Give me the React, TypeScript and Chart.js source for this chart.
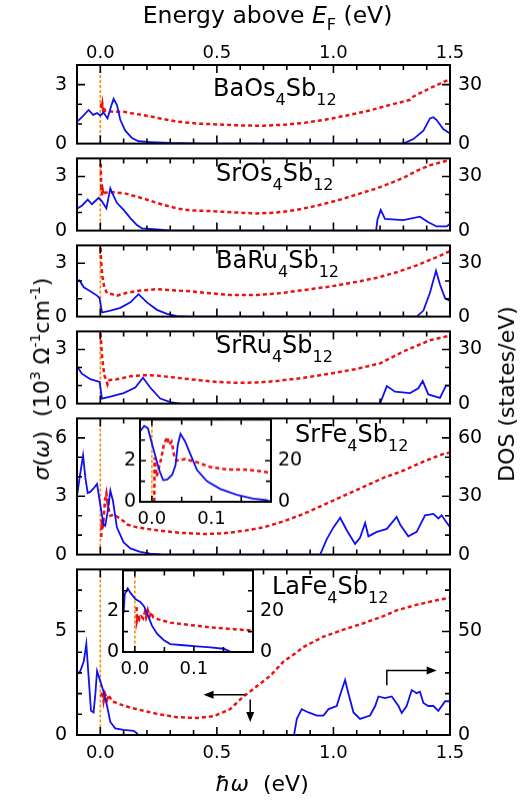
import React, { useEffect, useRef } from "react";
import { Chart, registerables } from "chart.js";
Chart.register(...registerables);

type Pt = [number, number];

// ---------- axis ranges and tick labels ----------
const X_MIN = -0.1;
const X_MAX = 1.5;
const X_TICK_LABELS = [0, 0.5, 1.0, 1.5];
const INSET_X_MIN = -0.02;
const INSET_X_MAX = 0.2;
const INSET_X_TICK_LABELS = [0, 0.1];
const INSET_Y_MAX = 4;
const INSET_LEFT_LABELS = [0, 2];
const INSET_RIGHT_LABELS = [0, 20];

// ---------- data: sigma (10^3 Ohm^-1 cm^-1) vs hbar*omega (eV); DOS (states/eV) vs E-EF (eV) ----------
const baOsSigma: Pt[] = [
  [0.003, 2.05], [0.006, 1.75], [0.009, 2.0], [0.012, 1.7], [0.016, 1.85], [0.02, 1.66], [0.057, 1.62],
  [0.1, 1.62], [0.157, 1.5], [0.214, 1.38], [0.271, 1.25], [0.329, 1.12], [0.414, 1.02], [0.514, 0.97],
  [0.614, 0.92], [0.7, 0.91], [0.8, 0.97], [0.871, 1.05], [0.957, 1.2], [1.057, 1.43], [1.157, 1.69],
  [1.243, 1.97], [1.329, 2.23], [1.343, 2.4], [1.414, 2.82], [1.5, 3.28],
];
const baOsDos: Pt[] = [
  [-0.099, 11.2], [-0.079, 13.5], [-0.05, 17.1], [-0.031, 14.6], [-0.014, 15.5], [0.0, 14.3], [0.014, 15.8],
  [0.031, 12.8], [0.046, 18.9], [0.057, 22.8], [0.071, 19.7], [0.086, 12], [0.107, 6.6], [0.136, 2.8],
  [0.164, 1.2], [0.214, 0.8], [0.3, 0.3], [0.443, 0], [1.3, 0], [1.343, 2.3], [1.386, 6.6], [1.414, 12.8],
  [1.429, 13.4], [1.443, 12], [1.471, 7.4], [1.5, 5.1],
];
const srOsSigma: Pt[] = [
  [0.002, 3.7], [0.004, 2.2], [0.006, 2.6], [0.008, 1.95], [0.011, 2.2], [0.014, 1.98], [0.02, 2.1],
  [0.057, 2.12], [0.1, 2.08], [0.157, 1.88], [0.214, 1.66], [0.271, 1.42], [0.329, 1.23], [0.386, 1.12],
  [0.471, 1.08], [0.586, 1.0], [0.671, 0.95], [0.757, 1.0], [0.843, 1.15], [0.929, 1.38], [1.014, 1.66],
  [1.1, 2.0], [1.186, 2.34], [1.243, 2.62], [1.3, 2.92], [1.357, 3.31], [1.414, 3.62], [1.5, 3.92],
];
const srOsDos: Pt[] = [
  [-0.099, 12.3], [-0.079, 13.8], [-0.054, 17.2], [-0.036, 14.6], [-0.007, 18.2], [0.007, 16.2],
  [0.026, 12.3], [0.043, 23.4], [0.054, 20], [0.071, 15.4], [0.1, 11.5], [0.129, 6.9], [0.157, 3.1],
  [0.179, 1.2], [0.243, 0.6], [0.3, 0], [1.183, 0], [1.189, 6.2], [1.203, 11.5], [1.221, 6.5], [1.3, 5.8],
  [1.371, 7.7], [1.407, 4.6], [1.443, 2.3], [1.486, 2.3], [1.5, 3.8],
];
const baRuSigma: Pt[] = [
  [0.001, 3.85], [0.003, 3.18], [0.009, 2.26], [0.017, 1.65], [0.029, 1.31], [0.05, 1.26], [0.071, 1.18],
  [0.114, 1.34], [0.171, 1.46], [0.243, 1.54], [0.3, 1.49], [0.386, 1.42], [0.471, 1.31], [0.557, 1.22],
  [0.671, 1.22], [0.757, 1.29], [0.871, 1.49], [0.986, 1.69], [1.1, 1.95], [1.186, 2.18], [1.271, 2.49],
  [1.357, 2.88], [1.443, 3.34], [1.5, 3.68],
];
const baRuDos: Pt[] = [
  [-0.099, 20.3], [-0.089, 20.3], [-0.071, 16.5], [-0.043, 14.2], [-0.014, 11.8], [-0.003, 10.3],
  [0.007, 2.3], [0.043, 3.4], [0.086, 4.9], [0.129, 8.0], [0.164, 12.6], [0.2, 8.0], [0.243, 3.8],
  [0.286, 1.5], [0.329, 0.3], [0.386, 0], [1.357, 0], [1.386, 3.4], [1.414, 13.4], [1.44, 25.7],
  [1.457, 18], [1.479, 10.3], [1.5, 8.8],
];
const srRuSigma: Pt[] = [
  [0.001, 3.9], [0.007, 2.66], [0.017, 1.58], [0.026, 1.28], [0.031, 1.05], [0.04, 1.31], [0.071, 1.35],
  [0.129, 1.51], [0.186, 1.58], [0.243, 1.55], [0.329, 1.43], [0.414, 1.31], [0.5, 1.2], [0.586, 1.15],
  [0.671, 1.17], [0.757, 1.25], [0.871, 1.43], [0.986, 1.66], [1.1, 1.92], [1.2, 2.23], [1.243, 2.51],
  [1.3, 2.89], [1.357, 3.2], [1.414, 3.51], [1.5, 3.77],
];
const srRuDos: Pt[] = [
  [-0.099, 20.5], [-0.079, 16.6], [-0.043, 13.5], [-0.003, 12], [0.007, 2.8], [0.043, 3.8], [0.1, 5.8],
  [0.15, 8.9], [0.183, 14.3], [0.214, 8.9], [0.257, 2.8], [0.3, 0.8], [0.343, 0], [1.2, 0], [1.229, 9.7],
  [1.264, 6.6], [1.329, 5.8], [1.364, 8.5], [1.383, 12.5], [1.407, 5.1], [1.457, 3.2], [1.483, 10],
  [1.5, 10],
];
const srFeSigma: Pt[] = [
  [0.004, 0.9], [0.006, 1.8], [0.009, 1.3], [0.014, 1.8], [0.02, 2.8], [0.026, 3.15], [0.03, 2.75],
  [0.033, 2.9], [0.038, 2.15], [0.043, 2.0], [0.057, 2.05], [0.076, 1.92], [0.1, 1.72], [0.114, 1.55],
  [0.157, 1.4], [0.243, 1.25], [0.343, 1.12], [0.443, 1.06], [0.529, 1.09], [0.614, 1.22], [0.7, 1.4],
  [0.786, 1.71], [0.871, 2.09], [0.957, 2.55], [1.043, 3.02], [1.129, 3.48], [1.214, 3.94], [1.3, 4.32],
  [1.386, 4.78], [1.471, 5.17], [1.5, 5.25],
];
const srFeDos: Pt[] = [
  [-0.099, 30.9], [-0.086, 41.7], [-0.074, 50.9], [-0.064, 39.4], [-0.054, 31.7], [-0.043, 32.2],
  [-0.029, 34], [-0.014, 36.3], [-0.003, 27.8], [0.007, 20.2], [0.014, 15.5], [0.021, 14.8],
  [0.031, 21.7], [0.043, 32.8], [0.054, 27.8], [0.071, 14], [0.1, 6.3], [0.129, 3.2], [0.171, 1.4],
  [0.214, 0.5], [0.271, 0], [0.943, 0], [0.971, 7.8], [1.0, 14], [1.029, 18.9], [1.057, 12.5],
  [1.093, 5.5], [1.114, 8.6], [1.136, 16.3], [1.15, 9.4], [1.186, 11.7], [1.229, 13.2], [1.271, 19.4],
  [1.286, 15.5], [1.321, 9.4], [1.357, 11.7], [1.393, 20.2], [1.429, 20.9], [1.45, 18.6], [1.464, 20.2],
  [1.5, 14],
];
const laFeSigma: Pt[] = [
  [0.003, 1.86], [0.009, 2.09], [0.014, 1.63], [0.02, 2.0], [0.029, 1.71], [0.036, 1.94], [0.05, 1.63],
  [0.086, 1.48], [0.129, 1.32], [0.186, 1.17], [0.243, 1.02], [0.329, 0.86], [0.414, 0.82], [0.486, 0.91],
  [0.557, 1.25], [0.614, 1.86], [0.671, 2.35], [0.729, 2.86], [0.786, 3.55], [0.843, 4.0], [0.871, 4.25],
  [0.957, 4.75], [1.043, 5.09], [1.129, 5.4], [1.214, 5.74], [1.271, 6.02], [1.357, 6.29], [1.443, 6.51],
  [1.5, 6.63],
];
const laFeDos: Pt[] = [
  [-0.099, 29.4], [-0.086, 30.9], [-0.071, 35.5], [-0.06, 44], [-0.05, 27.8], [-0.04, 11.7],
  [-0.029, 10.9], [-0.021, 20.2], [-0.014, 30.9], [-0.003, 27.1], [0.014, 20.9], [0.029, 14],
  [0.043, 6.3], [0.064, 3.2], [0.1, 2.5], [0.143, 2], [0.15, 1.5], [0.164, 0], [0.831, 0], [0.843, 7.8],
  [0.864, 12.5], [0.893, 10.9], [0.929, 9.4], [0.957, 9.4], [0.979, 12.5], [1.014, 14], [1.031, 20.2],
  [1.05, 26.6], [1.064, 20.2], [1.086, 10.9], [1.114, 7.8], [1.157, 9.4], [1.179, 14], [1.193, 18.6],
  [1.221, 17.8], [1.25, 18.6], [1.279, 14], [1.293, 10.6], [1.314, 14], [1.336, 21.7], [1.357, 20.2],
  [1.371, 20.9], [1.386, 15.5], [1.407, 14], [1.429, 14], [1.45, 11.7], [1.479, 16.3], [1.5, 16.3],
];
// insets (zoom near EF)
const srFeInsetSigma: Pt[] = [
  [0.004, 0], [0.0045, 2.15], [0.008, 1.23], [0.012, 1.69], [0.016, 2.15], [0.02, 2.77], [0.0257, 3.15],
  [0.029, 2.77], [0.033, 2.92], [0.038, 2.15], [0.042, 2.0], [0.056, 2.08], [0.076, 1.92], [0.098, 1.69],
  [0.126, 1.57], [0.154, 1.57], [0.176, 1.51], [0.2, 1.42],
];
const srFeInsetDos: Pt[] = [
  [-0.019, 34.6], [-0.013, 36.9], [-0.0066, 35.7], [0.0006, 27.7], [0.0079, 20], [0.0134, 14.6],
  [0.019, 10.5], [0.0257, 10.8], [0.034, 13.1], [0.0396, 17.7], [0.0435, 27.7], [0.048, 33.1],
  [0.056, 29.2], [0.0647, 23.1], [0.0758, 15.4], [0.0925, 10], [0.115, 6.2], [0.143, 3.4], [0.17, 1.5],
  [0.193, 0.8], [0.2, 0],
];
const laFeInsetSigma: Pt[] = [
  [0.003, 2.2], [0.0035, 1.5], [0.006, 1.8], [0.008, 1.6], [0.011, 1.75], [0.014, 1.65], [0.017, 1.95],
  [0.019, 1.7], [0.022, 2.05], [0.025, 1.75], [0.028, 1.95], [0.031, 1.7], [0.04, 1.6], [0.06, 1.44],
  [0.094, 1.32], [0.128, 1.21], [0.162, 1.13], [0.2, 1.05],
];
const laFeInsetDos: Pt[] = [
  [-0.019, 19], [-0.017, 28.4], [-0.012, 31.2], [-0.0076, 29.1], [0.0009, 26], [0.0093, 24.5],
  [0.016, 22.2], [0.0217, 18.3], [0.029, 12.9], [0.0375, 9], [0.0488, 5.9], [0.06, 3.9], [0.0826, 3.3],
  [0.105, 2.8], [0.128, 2.3], [0.15, 1.6], [0.162, 0.2], [0.2, 0],
];

// ---------- panels ----------
const PANELS = [
  { formula: ["BaOs", "4", "Sb", "12"], sigma: baOsSigma, dos: baOsDos, yMax: 4, left: [0, 3], right: [0, 30] },
  { formula: ["SrOs", "4", "Sb", "12"], sigma: srOsSigma, dos: srOsDos, yMax: 4, left: [0, 3], right: [0, 30] },
  { formula: ["BaRu", "4", "Sb", "12"], sigma: baRuSigma, dos: baRuDos, yMax: 4, left: [0, 3], right: [0, 30] },
  { formula: ["SrRu", "4", "Sb", "12"], sigma: srRuSigma, dos: srRuDos, yMax: 4, left: [0, 3], right: [0, 30] },
  { formula: ["SrFe", "4", "Sb", "12"], sigma: srFeSigma, dos: srFeDos, yMax: 7, left: [0, 3, 6], right: [0, 30, 60] },
  { formula: ["LaFe", "4", "Sb", "12"], sigma: laFeSigma, dos: laFeDos, yMax: 8, left: [0, 5], right: [0, 50] },
];
const INSETS = [
  { sigma: srFeInsetSigma, dos: srFeInsetDos },
  { sigma: laFeInsetSigma, dos: laFeInsetDos },
];

// ---------- layout / style ----------
const W = 522;
const H = 804;
const PLOT_L = 77;
const PLOT_R = 450;
const PANEL_EDGES = [65, 151, 238, 324, 411, 562, 735];
const LABEL_POS = [[213, 96], [216, 181], [216, 268], [216, 353], [295, 442], [272, 594]];
const INSET_BOXES = [
  { l: 139.5, r: 270.5, t: 415, b: 501.7 },
  { l: 122.7, r: 252.7, t: 566.3, b: 652.3 },
];
// arrows on the LaFe panel, in data coordinates (x eV, y sigma units)
const ARROWS: Pt[][] = [
  [[0.621, 1.94], [0.443, 1.94]],
  [[0.643, 1.71], [0.643, 0.63]],
  [[1.229, 2.4], [1.229, 3.12], [1.443, 3.12]],
];
const EXTRA = 14;
const FONT = "'DejaVu Sans', 'Liberation Sans', Arial, sans-serif";
const BLUE = "#1010f0";
const RED = "#ee1111";
const ORANGE = "#ff8a00";

const toXY = (a: Pt[]) => a.map(([x, y]) => ({ x, y }));
const near = (a: number, b: number) => Math.abs(a - b) < 1e-6;
const isMult = (v: number, m: number) => near(v / m, Math.round(v / m));

type FrameCfg = {
  xStep: number; xMajor: number; yMax: number; yMajor: number[];
  arrows?: Pt[][]; whiteBg?: boolean; major: number; minor: number;
};

function framePlugin(cfg: FrameCfg) {
  return {
    id: "frame",
    beforeDraw(chart: any) {
      if (!cfg.whiteBg) return;
      const { ctx, chartArea: a } = chart;
      ctx.save();
      ctx.fillStyle = "#fff";
      ctx.fillRect(a.left, a.top, a.right - a.left, a.bottom - a.top);
      ctx.restore();
    },
    beforeDatasetsDraw(chart: any) {
      const { ctx, chartArea: a, scales } = chart;
      const px = scales.x.getPixelForValue(0);
      ctx.save();
      ctx.strokeStyle = ORANGE;
      ctx.lineWidth = 1.6;
      ctx.setLineDash([3, 2]);
      ctx.beginPath();
      ctx.moveTo(px, a.top);
      ctx.lineTo(px, a.bottom);
      ctx.stroke();
      ctx.restore();
    },
    afterDatasetsDraw(chart: any) {
      const { ctx, chartArea: a, scales } = chart;
      const xs = scales.x;
      const yl = scales.yL;
      ctx.save();
      ctx.strokeStyle = "#000";
      ctx.lineWidth = 2;
      ctx.setLineDash([]);
      ctx.strokeRect(a.left, a.top, a.right - a.left, a.bottom - a.top);
      ctx.lineWidth = 1.6;
      ctx.beginPath();
      const n = Math.round((xs.max - xs.min) / cfg.xStep);
      const first = Math.ceil(xs.min / cfg.xStep - 1e-6);
      for (let k = first; k * cfg.xStep < xs.max - 1e-6; k++) {
        const v = k * cfg.xStep;
        if (v <= xs.min + 1e-6) continue;
        const p = xs.getPixelForValue(v);
        const len = isMult(v, cfg.xMajor) ? cfg.major : cfg.minor;
        ctx.moveTo(p, a.top); ctx.lineTo(p, a.top + len);
        ctx.moveTo(p, a.bottom); ctx.lineTo(p, a.bottom - len);
      }
      void n;
      for (let v = 1; v < cfg.yMax; v++) {
        const p = yl.getPixelForValue(v);
        const len = cfg.yMajor.includes(v) ? cfg.major : cfg.minor;
        ctx.moveTo(a.left, p); ctx.lineTo(a.left + len, p);
        ctx.moveTo(a.right, p); ctx.lineTo(a.right - len, p);
      }
      ctx.stroke();
      if (cfg.arrows) {
        ctx.lineWidth = 1.5;
        ctx.fillStyle = "#000";
        for (const arr of cfg.arrows) {
          const pts = arr.map(([x, y]) => [xs.getPixelForValue(x), yl.getPixelForValue(y)]);
          const [ex, ey] = pts[pts.length - 1];
          const [sx, sy] = pts[pts.length - 2];
          const ang = Math.atan2(ey - sy, ex - sx);
          const hl = 10, hw = 4;
          ctx.beginPath();
          ctx.moveTo(pts[0][0], pts[0][1]);
          for (let i = 1; i < pts.length - 1; i++) ctx.lineTo(pts[i][0], pts[i][1]);
          ctx.lineTo(ex - hl * 0.8 * Math.cos(ang), ey - hl * 0.8 * Math.sin(ang));
          ctx.stroke();
          ctx.beginPath();
          ctx.moveTo(ex, ey);
          ctx.lineTo(ex - hl * Math.cos(ang) + hw * Math.sin(ang), ey - hl * Math.sin(ang) - hw * Math.cos(ang));
          ctx.lineTo(ex - hl * Math.cos(ang) - hw * Math.sin(ang), ey - hl * Math.sin(ang) + hw * Math.cos(ang));
          ctx.closePath();
          ctx.fill();
        }
      }
      ctx.restore();
    },
  };
}

function lineSets(sigma: Pt[], dos: Pt[]) {
  return [
    {
      data: toXY(dos), xAxisID: "x", yAxisID: "yR", borderColor: BLUE, borderWidth: 1.8,
      pointRadius: 0, fill: false, tension: 0,
    },
    {
      data: toXY(sigma), xAxisID: "x", yAxisID: "yL", borderColor: RED, borderWidth: 2.5,
      borderDash: [4, 3], pointRadius: 0, fill: false, tension: 0,
    },
  ];
}

const hidden = { display: false, drawTicks: false };
const tickFont = (size: number) => ({ family: FONT, size });

type Geo = { left: number; top: number; width: number; height: number };

const BOTTOM_AXIS_H = 40;

function panelGeo(i: number): Geo {
  const top = PANEL_EDGES[i];
  const bottom = PANEL_EDGES[i + 1];
  const cTop = i === 0 ? 0 : top - EXTRA;
  const cBottom = i === PANELS.length - 1 ? bottom + BOTTOM_AXIS_H : bottom + EXTRA;
  return { left: 0, top: cTop, width: W, height: cBottom - cTop };
}
const INSET_TOP_PAD = 14;
function insetGeo(i: number): Geo {
  const b = INSET_BOXES[i];
  return { left: b.l - 40, top: b.t - INSET_TOP_PAD, width: b.r + 36 - (b.l - 40), height: b.b + 30 - (b.t - INSET_TOP_PAD) };
}

function panelConfig(i: number): any {
  const p = PANELS[i];
  const first = i === 0;
  const last = i === PANELS.length - 1;
  const xLabel = (v: number) => (X_TICK_LABELS.some((t) => near(t, v)) ? Math.abs(v).toFixed(1) : "");
  const xCommon = {
    type: "linear", min: X_MIN, max: X_MAX,
    grid: hidden, border: { display: false },
  };
  return {
    type: "line",
    data: { datasets: lineSets(p.sigma, p.dos) },
    options: {
      animation: false, responsive: false, maintainAspectRatio: false, devicePixelRatio: 1, events: [],
      layout: { padding: { left: 0, right: 0, top: first ? 0 : EXTRA, bottom: last ? 0 : EXTRA } },
      plugins: { legend: { display: false }, tooltip: { enabled: false }, title: { display: false } },
      scales: {
        x: {
          ...xCommon, position: "bottom", display: last,
          ticks: { stepSize: 0.1, autoSkip: false, maxRotation: 0, padding: 8, color: "#000", font: tickFont(18), callback: xLabel },
          afterFit: (s: any) => { if (last) s.height = BOTTOM_AXIS_H; },
        },
        xTop: {
          ...xCommon, position: "top", display: first,
          ticks: { stepSize: 0.1, autoSkip: false, maxRotation: 0, padding: 1, color: "#000", font: tickFont(18), callback: xLabel },
          afterFit: (s: any) => { if (first) s.height = PANEL_EDGES[0]; },
        },
        yL: {
          type: "linear", position: "left", min: 0, max: p.yMax, grid: hidden, border: { display: false },
          ticks: { stepSize: 1, autoSkip: false, padding: 10, color: "#000", font: tickFont(19),
            callback: (v: number) => (p.left.some((t) => near(t, v)) ? String(Math.round(v)) : "") },
          afterFit: (s: any) => { s.width = PLOT_L; },
        },
        yR: {
          type: "linear", position: "right", min: 0, max: p.yMax * 10, grid: hidden, border: { display: false },
          ticks: { stepSize: 10, autoSkip: false, padding: 8, color: "#000", font: tickFont(19),
            callback: (v: number) => (p.right.some((t) => near(t, v)) ? String(Math.round(v)) : "") },
          afterFit: (s: any) => { s.width = W - PLOT_R; },
        },
      },
    },
    plugins: [framePlugin({ xStep: 0.1, xMajor: 0.5, yMax: p.yMax, yMajor: p.left, arrows: last ? ARROWS : undefined, major: 8, minor: 5 })],
  };
}

function insetConfig(i: number): any {
  const d = INSETS[i];
  const g = insetGeo(i);
  const b = INSET_BOXES[i];
  return {
    type: "line",
    data: { datasets: lineSets(d.sigma, d.dos) },
    options: {
      animation: false, responsive: false, maintainAspectRatio: false, devicePixelRatio: 1, events: [],
      layout: { padding: { left: 0, right: 0, top: b.t - g.top, bottom: 0 } },
      plugins: { legend: { display: false }, tooltip: { enabled: false } },
      scales: {
        x: {
          type: "linear", position: "bottom", min: INSET_X_MIN, max: INSET_X_MAX, grid: hidden, border: { display: false },
          ticks: { stepSize: 0.05, includeBounds: false, autoSkip: false, maxRotation: 0, padding: 7, color: "#000", font: tickFont(18),
            callback: (v: number) => (INSET_X_TICK_LABELS.some((t) => near(t, v)) ? Math.abs(v).toFixed(1) : "") },
          afterFit: (s: any) => { s.height = g.top + g.height - b.b; },
        },
        yL: {
          type: "linear", position: "left", min: 0, max: INSET_Y_MAX, grid: hidden, border: { display: false },
          ticks: { stepSize: 1, autoSkip: false, padding: 4, color: "#000", font: tickFont(19),
            callback: (v: number) => (INSET_LEFT_LABELS.some((t) => near(t, v)) ? String(Math.round(v)) : "") },
          afterFit: (s: any) => { s.width = b.l - g.left; },
        },
        yR: {
          type: "linear", position: "right", min: 0, max: INSET_Y_MAX * 10, grid: hidden, border: { display: false },
          ticks: { stepSize: 10, autoSkip: false, padding: 7, color: "#000", font: tickFont(19),
            callback: (v: number) => (INSET_RIGHT_LABELS.some((t) => near(t, v)) ? String(Math.round(v)) : "") },
          afterFit: (s: any) => { s.width = g.left + g.width - b.r; },
        },
      },
    },
    plugins: [framePlugin({ xStep: 0.05, xMajor: 0.1, yMax: INSET_Y_MAX, yMajor: [2], whiteBg: true, major: 6, minor: 5 })],
  };
}

const sub = (t: string, size: number, dy: number) => (
  <span style={{ fontSize: size, position: "relative", top: dy }}>{t}</span>
);

export default function App() {
  const panelRefs = useRef<(HTMLCanvasElement | null)[]>([]);
  const insetRefs = useRef<(HTMLCanvasElement | null)[]>([]);

  useEffect(() => {
    document.body.style.margin = "0";
    const charts: Chart[] = [];
    PANELS.forEach((_, i) => {
      const c = panelRefs.current[i];
      if (c) charts.push(new Chart(c, panelConfig(i)));
    });
    INSETS.forEach((_, i) => {
      const c = insetRefs.current[i];
      if (c) charts.push(new Chart(c, insetConfig(i)));
    });
    return () => charts.forEach((c) => c.destroy());
  }, []);

  const abs = (g: Geo): React.CSSProperties => ({
    position: "absolute", left: g.left, top: g.top, width: g.width, height: g.height,
  });

  return (
    <div style={{ position: "absolute", left: 0, top: 0, width: W, height: H, background: "#fff", overflow: "hidden", fontFamily: FONT, color: "#000" }}>
      {PANELS.map((_, i) => {
        const g = panelGeo(i);
        return (
          <div key={"p" + i} style={abs(g)}>
            <canvas ref={(el) => { panelRefs.current[i] = el; }} width={g.width} height={g.height} style={{ width: g.width, height: g.height, display: "block" }} />
          </div>
        );
      })}
      {PANELS.map((p, i) => (
        <div key={"l" + i} style={{ position: "absolute", left: LABEL_POS[i][0], top: LABEL_POS[i][1] - 20.3, fontSize: 24, lineHeight: 1, whiteSpace: "nowrap" }}>
          {p.formula[0]}{sub(p.formula[1], 16, 9)}{p.formula[2]}{sub(p.formula[3], 16, 9)}
        </div>
      ))}
      {INSETS.map((_, i) => {
        const g = insetGeo(i);
        return (
          <div key={"i" + i} style={abs(g)}>
            <canvas ref={(el) => { insetRefs.current[i] = el; }} width={g.width} height={g.height} style={{ width: g.width, height: g.height, display: "block" }} />
          </div>
        );
      })}
      <div style={{ position: "absolute", left: 267.5, top: 4, transform: "translateX(-50%)", fontSize: 23.5, lineHeight: 1, whiteSpace: "nowrap" }}>
        Energy above <i>E</i>{sub("F", 16, 7)} (eV)
      </div>
      <div style={{ position: "absolute", left: 262, top: 773, transform: "translateX(-50%)", fontSize: 22, lineHeight: 1, whiteSpace: "nowrap" }}>
        <i>ħω</i>&nbsp;&nbsp;(eV)
      </div>
      <div style={{ position: "absolute", left: 42, top: 379, transform: "translate(-50%, -50%) rotate(-90deg)", fontSize: 22, lineHeight: 1, whiteSpace: "nowrap" }}>
        <i>σ</i>(<i>ω</i>)&nbsp;&nbsp;(10{sub("3", 14, -9)}&nbsp;Ω{sub("-1", 14, -9)}cm{sub("-1", 14, -9)})
      </div>
      <div style={{ position: "absolute", left: 507, top: 394, transform: "translate(-50%, -50%) rotate(-90deg)", fontSize: 22, lineHeight: 1, whiteSpace: "nowrap" }}>
        DOS (states/eV)
      </div>
    </div>
  );
}
